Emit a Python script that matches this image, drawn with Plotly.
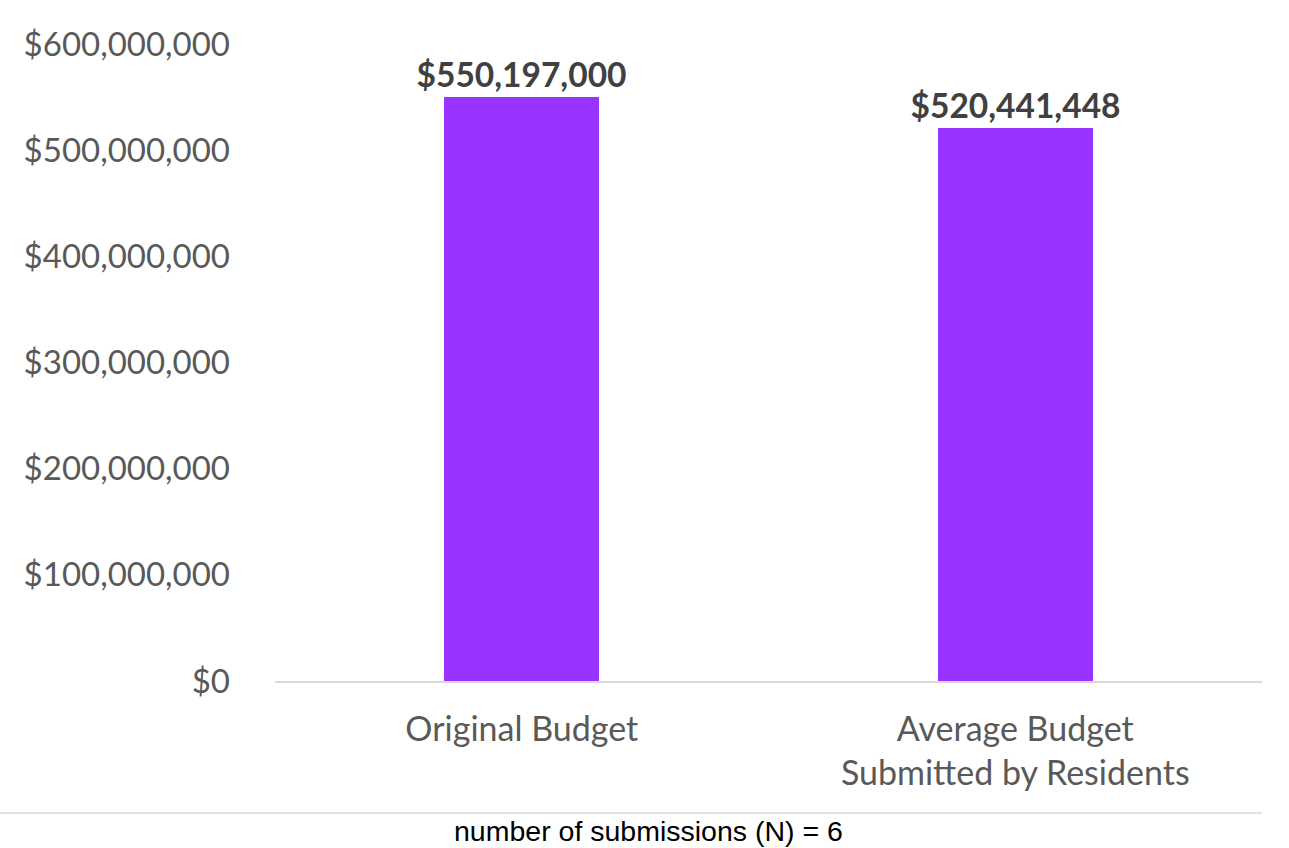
import plotly.graph_objects as go

categories = ["Original Budget", "Average Budget<br>Submitted by Residents"]
budgets = [550197000, 520441448]
y_ticks = [0, 100000000, 200000000, 300000000, 400000000, 500000000, 600000000]
footnote = "number of submissions (N) = 6"

label_font = "Lato, Calibri, 'Open Sans', sans-serif"

fig = go.Figure(
    go.Bar(
        x=categories,
        y=budgets,
        marker=dict(color="#9933FF", line=dict(width=0)),
        width=0.314,
        text=[f"${v:,.0f}" for v in budgets],
        textposition="outside",
        constraintext="none",
        cliponaxis=False,
        textfont=dict(family=label_font, size=33.5, color="#404040", weight="bold"),
    )
)

fig.update_layout(
    width=1289,
    height=848,
    margin=dict(l=275, r=27, t=44, b=167),
    paper_bgcolor="white",
    plot_bgcolor="white",
    showlegend=False,
    bargap=0.0,
    uniformtext=dict(mode=False),
)

fig.update_yaxes(
    range=[0, 600000000],
    tickvals=y_ticks,
    ticktext=[f"${v:,.0f}" for v in y_ticks],
    showgrid=False,
    zeroline=False,
    showline=False,
    ticks="",
    ticklabelstandoff=44,
    tickfont=dict(family=label_font, size=33, color="#595959"),
)

fig.update_xaxes(
    showline=True,
    linecolor="#d9d9d9",
    linewidth=1.5,
    ticks="",
    ticklabelstandoff=17,
    tickfont=dict(family=label_font, size=34, color="#595959"),
)

# separator rule above the footnote
fig.add_shape(
    type="line", xref="paper", yref="paper",
    x0=-275 / 987, x1=1.0, y0=-(813 - 681) / 637, y1=-(813 - 681) / 637,
    line=dict(color="#d9d9d9", width=1.5),
)

fig.add_annotation(
    text=footnote, xref="paper", yref="paper",
    x=(648 - 275) / 987, y=-(831 - 681) / 637,
    xanchor="center", yanchor="middle", showarrow=False,
    font=dict(family="'Liberation Sans', Arial, sans-serif", size=28.5, color="#000000"),
)

fig.write_html("out.html")
